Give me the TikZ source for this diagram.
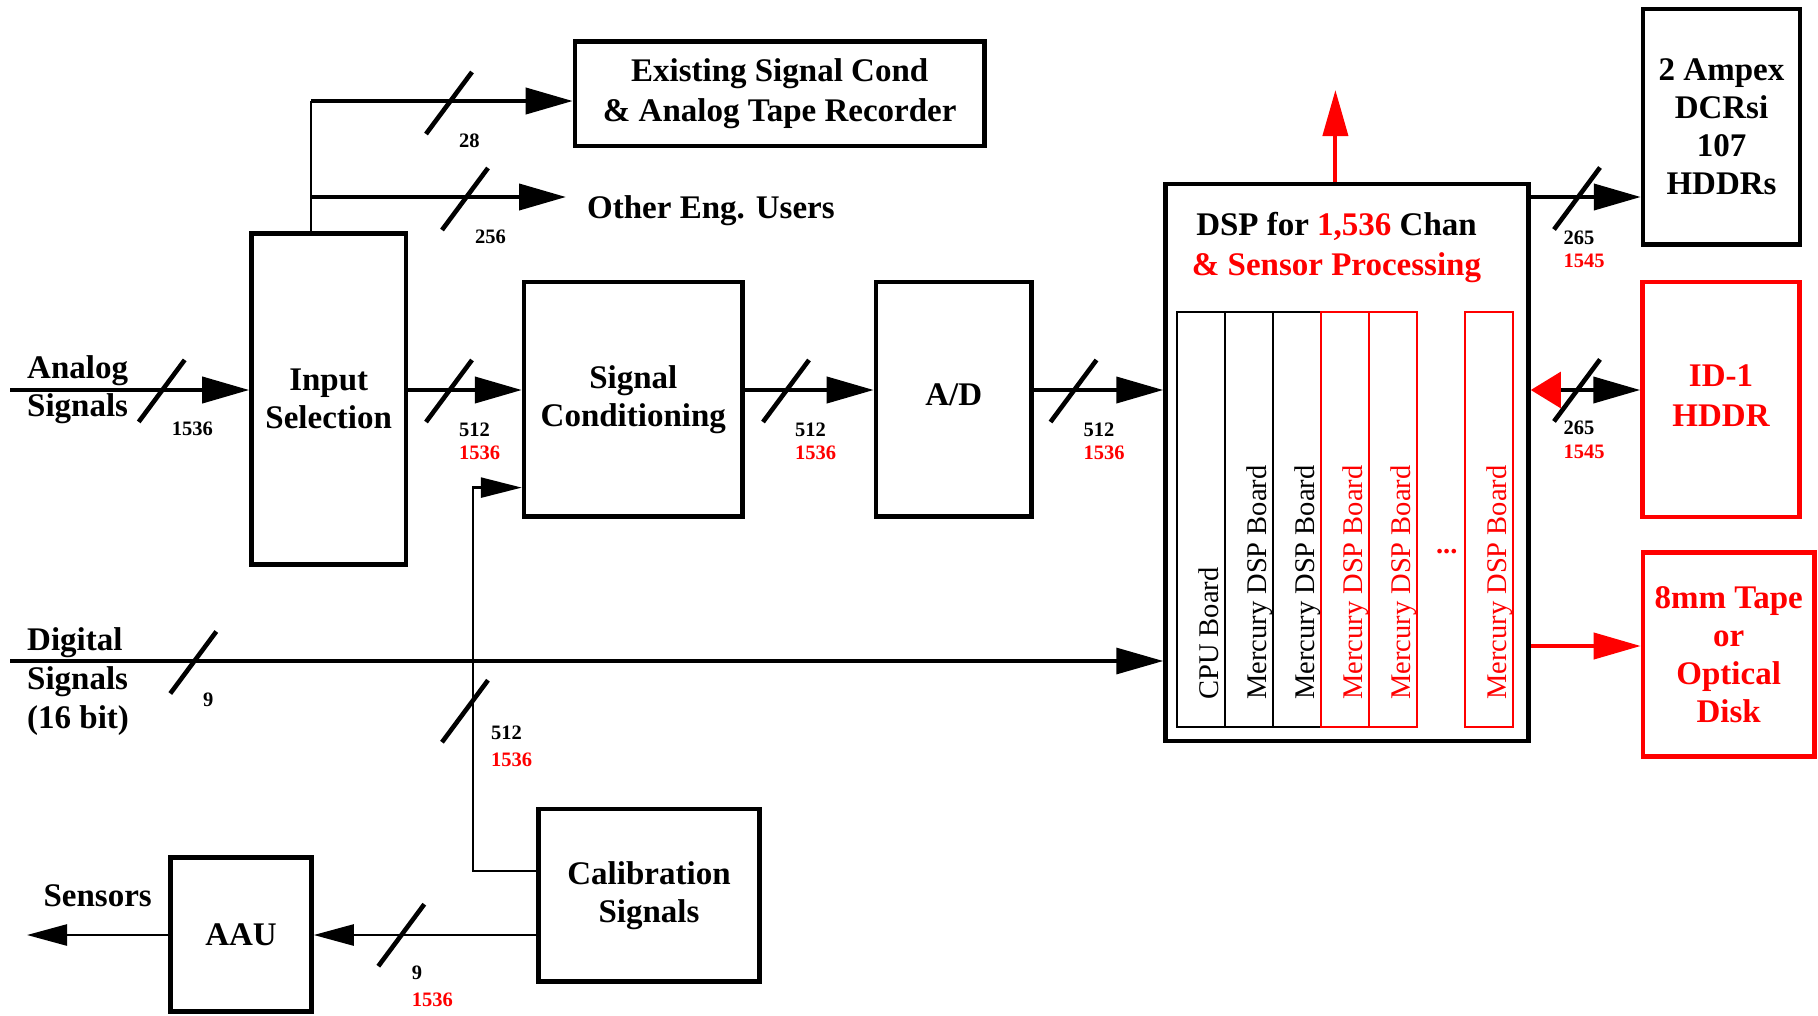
\documentclass[tikz,border=0pt]{standalone}
\usepackage{fontspec}
\setmainfont{Liberation Serif}
\usetikzlibrary{arrows.meta,calc}

% type sizes used in the block diagram
\newcommand\dgmbig{\bfseries\fontsize{33}{38}\selectfont}
\newcommand\dgmnum{\bfseries\fontsize{20.5}{24}\selectfont}
\newcommand\dgmboard{\fontsize{28.5}{32}\selectfont}
\newcommand\dgmdots{\bfseries\fontsize{28.5}{32}\selectfont}

\begin{document}
\begin{tikzpicture}[x=1pt,y=-1pt,
  blk/.style={draw, line width=4.5pt, rectangle, inner sep=0pt, align=center, font=\dgmbig},
  redblk/.style={blk, draw=red, text=red},
  bus/.style={line width=4pt},
  thinbus/.style={line width=2.5pt},
  head/.style={-{Triangle[length=47pt,width=26pt]}},
  smallhead/.style={-{Triangle[length=40pt,width=21pt]}},
  num/.style={anchor=base west, inner sep=0pt, font=\dgmnum},
  rnum/.style={num, text=red},
  freetxt/.style={inner sep=0pt, font=\dgmbig},
  board/.style={draw, line width=2pt, rectangle, minimum width=48.2pt, minimum height=415pt, inner sep=0pt},
  boardtxt/.style={rotate=90, anchor=base west, inner sep=0pt, font=\dgmboard},
  slashmark/.pic={\draw[line width=4.6pt] (-23,31) -- (23,-31);}
]
\useasboundingbox (0,0) rectangle (1818,1015);

% ---------- blocks ----------
\node[blk, minimum width=409.5pt, minimum height=104.5pt,
      font=\dgmbig\fontsize{33}{39.5}\selectfont] (exist) at (779.7,93.8)
      {Existing Signal Cond\\\& Analog Tape Recorder};
\node[blk, minimum width=154.5pt, minimum height=331pt] (input) at (328.7,399) {Input\\Selection};
\node[blk, minimum width=218.5pt, minimum height=234.5pt] (sigcond) at (633.3,399.3) {Signal\\Conditioning};
\node[blk, minimum width=155.5pt, minimum height=234.5pt] (ad) at (953.7,399.3) {};
\node[freetxt] (adtxt) at (953.7,394.7) {A/D};
\node[blk, minimum width=363pt, minimum height=557pt] (dsp) at (1347,462.5) {};
\node[blk, minimum width=157pt, minimum height=235.5pt] (ampex) at (1721.5,126.7) {2 Ampex\\DCRsi\\107\\HDDRs};
\node[redblk, minimum width=157pt, minimum height=235pt, text depth=8pt,
      font=\dgmbig\fontsize{33}{39.5}\selectfont] (id1) at (1721,399.5) {ID-1\\HDDR};
\node[redblk, minimum width=171.5pt, minimum height=204pt] (tape) at (1728.7,654.5) {8mm Tape\\or\\Optical\\Disk};
\node[blk, minimum width=221pt, minimum height=172.5pt] (calib) at (649,895.2) {Calibration\\Signals};
\node[blk, minimum width=141pt, minimum height=154pt] (aau) at (241,934.5) {AAU};

% ---------- DSP chassis: title and boards ----------
\node[anchor=base, inner sep=0pt, font=\dgmbig] (title1) at (1336.5,235)
      {DSP for \textcolor{red}{1,536} Chan};
\node[anchor=base, inner sep=0pt, font=\dgmbig, text=red] (title2) at (1336.5,275)
      {\& Sensor Processing};

\node[board] (b1) at (1200.9,519.2) {};
\node[board] (b2) at (1249.1,519.2) {};
\node[board] (b3) at (1297.2,519.2) {};
\node[board, draw=red] (b4) at (1345.1,519.2) {};
\node[board, draw=red] (b5) at (1393.3,519.2) {};
\node[board, draw=red] (b6) at (1489.2,519.2) {};

\node[boardtxt] (t1) at (1218,700) {CPU Board};
\node[boardtxt] (t2) at (1266.3,700) {Mercury DSP Board};
\node[boardtxt] (t3) at (1314.3,700) {Mercury DSP Board};
\node[boardtxt, text=red] (t4) at (1362,700) {Mercury DSP Board};
\node[boardtxt, text=red] (t5) at (1410.7,700) {Mercury DSP Board};
\node[boardtxt, text=red] (t6) at (1506.3,700) {Mercury DSP Board};
\node[inner sep=0pt, font=\dgmdots, text=red] (dots) at (1446.7,552) {...};

% ---------- free labels ----------
\node[freetxt, anchor=north west, align=left, font=\dgmbig\fontsize{33}{38}\selectfont]
      (analog) at (27,355.3) {Analog\\Signals};
\node[freetxt, anchor=north west, align=left, font=\dgmbig\fontsize{33}{39}\selectfont]
      (digital) at (27,627.5) {Digital\\Signals\\(16 bit)};
\node[freetxt, anchor=base west] (sensors) at (43.4,906.7) {Sensors};
\node[freetxt, anchor=base west] (other) at (587,218.3) {Other Eng. Users};

% ---------- connector end points ----------
\coordinate (tap) at (311,101);
\coordinate (tap2) at (311,197);
\coordinate (othertip) at (566,197);
\coordinate (anain) at (10,390);
\coordinate (digin) at (10,661);
\coordinate (tapelvl) at (1600,646);
\coordinate (sensout) at (27,935);
\coordinate (upout) at (1335.4,90);
\coordinate (calbend) at (473,871);
\coordinate (calfeed) at (473,487.6);

% ---------- connectors ----------
\draw[thinbus] (input.north -| tap) -- (tap);
\draw[bus,head] (tap) -- (exist.west |- tap);
\draw[bus,head] (tap2) -- (othertip);
\draw[bus,head] (anain) -- (input.west |- anain);
\draw[bus,head] (input.east |- anain) -- (sigcond.west |- anain);
\draw[bus,head] (sigcond.east |- anain) -- (ad.west |- anain);
\draw[bus,head] (ad.east |- anain) -- (dsp.west |- anain);
\draw[bus,head] (dsp.east |- tap2) -- (ampex.west |- tap2);
\draw[bus,{Triangle[color=red,length=30pt,width=35.6pt]}-{Triangle[length=47pt,width=26pt]}]
      (dsp.east |- anain) -- (id1.west |- anain);
\draw[bus,red,head] (dsp.east |- tapelvl) -- (tape.west |- tapelvl);
\draw[bus,red,-{Triangle[length=46pt,width=25pt]}] (dsp.north -| upout) -- (upout);
\draw[line width=3.3pt,head] (digin) -- (dsp.west |- digin);
\draw[thinbus,-{Triangle[length=41pt,width=20pt]}]
      (calib.west |- calbend) -- (calbend) -- (calfeed) -- (sigcond.west |- calfeed);
\draw[thinbus,smallhead] (calib.west |- sensout) -- (aau.east |- sensout);
\draw[thinbus,smallhead] (aau.west |- sensout) -- (sensout);

% ---------- bus width marks ----------
\pic at (449,103) {slashmark};
\pic at (465,199) {slashmark};
\pic at (161.7,390.9) {slashmark};
\pic at (449,391) {slashmark};
\pic at (786,391) {slashmark};
\pic at (1073.5,391) {slashmark};
\pic at (1577,198.5) {slashmark};
\pic at (1577,390.4) {slashmark};
\pic at (193.3,662.5) {slashmark};
\pic at (465,711.2) {slashmark};
\pic at (401.3,935.2) {slashmark};

% ---------- channel counts ----------
\node[num] (c28) at (459,147) {28};
\node[num] (c256) at (475,243) {256};
\node[num] (can) at (171.7,435) {1536};
\node[num] (cin) at (459,436) {512};
\node[rnum] (cinr) at (459,459.5) {1536};
\node[num] (csc) at (795,436) {512};
\node[rnum] (cscr) at (795,459.5) {1536};
\node[num] (cad) at (1083.5,436) {512};
\node[rnum] (cadr) at (1083.5,459.5) {1536};
\node[num] (cam) at (1563.3,244) {265};
\node[rnum] (camr) at (1563.3,267) {1545};
\node[num] (cid) at (1563.3,434.3) {265};
\node[rnum] (cidr) at (1563.3,458.3) {1545};
\node[num] (cdg) at (203,706.7) {9};
\node[num] (ccal) at (491,739.3) {512};
\node[rnum] (ccalr) at (491,766.7) {1536};
\node[num] (caau) at (411.7,979) {9};
\node[rnum] (caaur) at (411.7,1006.7) {1536};
\end{tikzpicture}
\end{document}
